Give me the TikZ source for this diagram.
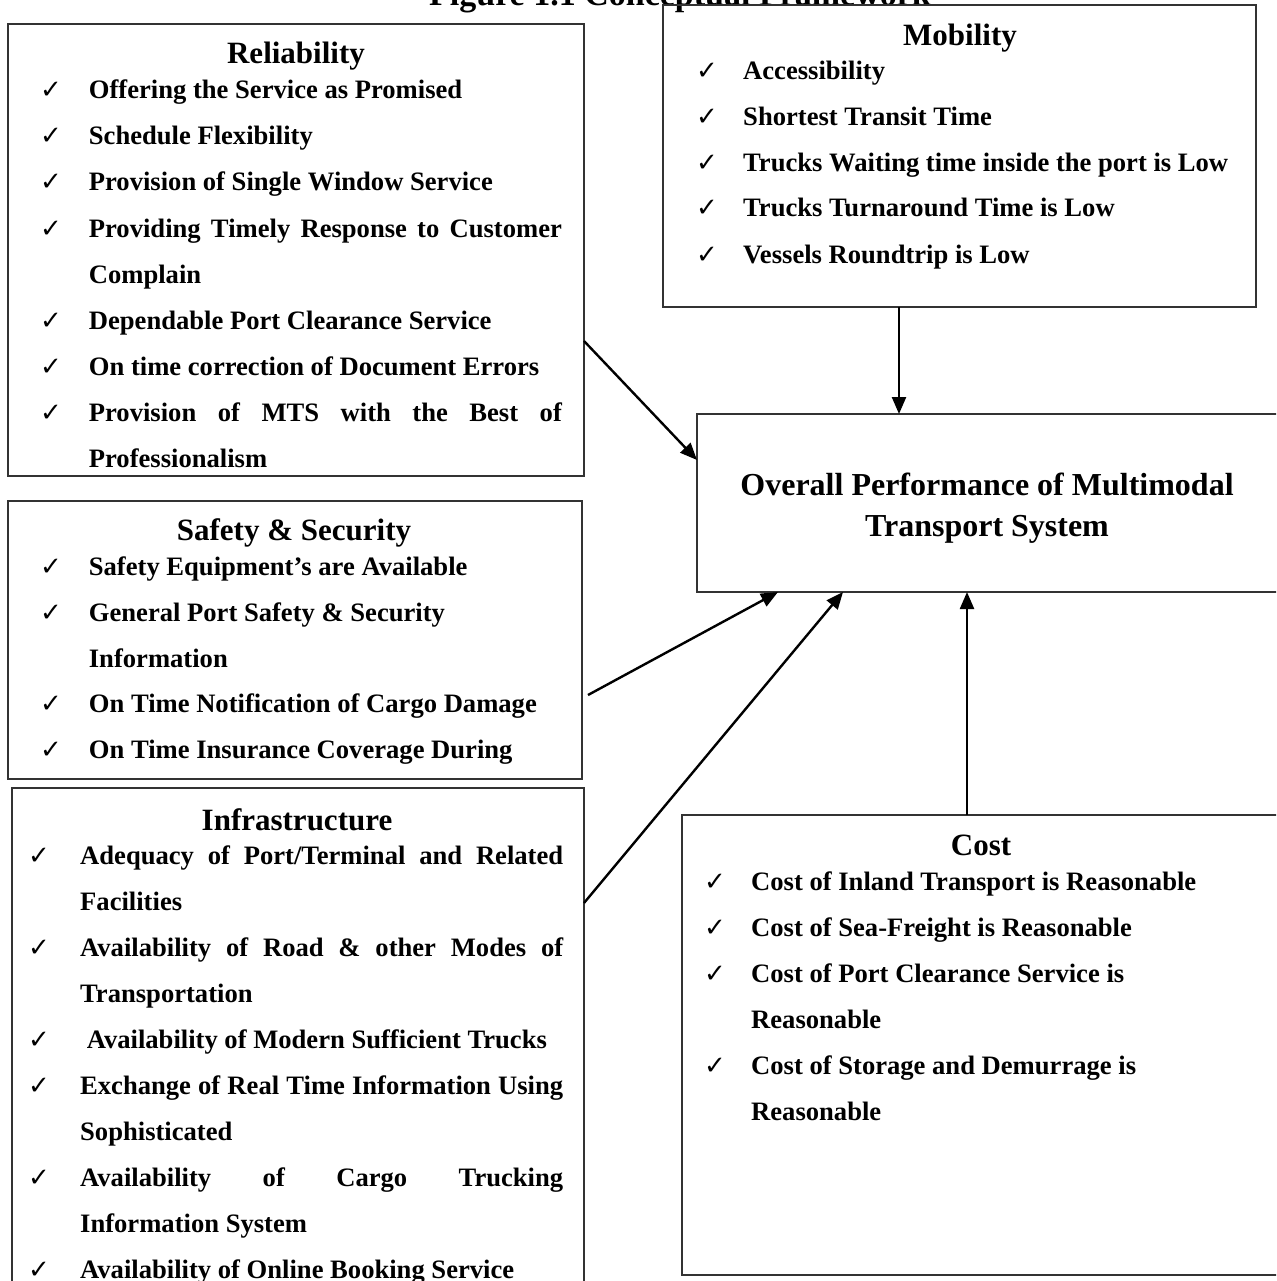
\documentclass[tikz,border=0pt]{standalone}
\usepackage{fontspec}
\setmainfont{Liberation Serif}
\newfontfamily\symf{DejaVu Sans}
\usetikzlibrary{arrows.meta}
\tikzset{
  box/.style={draw=black!80, line width=1.6pt, inner sep=0pt, outer sep=0pt, anchor=north west},
  head/.style={font=\fontsize{31}{36}\selectfont\bfseries, anchor=base, inner sep=0pt},
  ttl/.style={font=\fontsize{34}{40}\selectfont\bfseries, anchor=base, inner sep=0pt},
  big/.style={font=\fontsize{32}{40}\selectfont\bfseries, anchor=base, inner sep=0pt},
  itm/.style={font=\fontsize{26.6}{32}\selectfont\bfseries, anchor=base west, inner sep=0pt},
  tick/.style={font=\symf\fontsize{26}{30}\selectfont, anchor=base west, inner sep=0pt},
  arr/.style={line width=2.4pt, -{Triangle[length=17pt,width=14pt]}},
}
\begin{document}
\begin{tikzpicture}[x=1pt,y=-1pt]
\useasboundingbox (0,0) rectangle (1276,1281);
\clip (0,0) rectangle (1276,1281);
\fill[white] (0,0) rectangle (1276,1281);

% title (cut off at top)
\node[ttl] (title) at (680,6) {Figure 1.1 Conceptual Framework};

% boxes
\node[box, minimum width=576pt, minimum height=452pt] (rel) at (8,24) {};
\node[box, minimum width=593pt, minimum height=302pt] (mob) at (663,5) {};
\node[box, minimum width=581pt, minimum height=178pt] (ov) at (697,414) {};
\node[box, minimum width=574pt, minimum height=278pt] (saf) at (8,501) {};
\node[box, minimum width=572pt, minimum height=520pt] (inf) at (12,788) {};
\node[box, minimum width=598pt, minimum height=460pt] (cost) at (682,815) {};

% Reliability
\node[head] (relh) at (296,64) {Reliability};
\node[tick] (rt1) at (40,99) {✓};
\node[itm] (ri1) at (88.7,99) {Offering the Service as Promised};
\node[tick] (rt2) at (40,145) {✓};
\node[itm] (ri2) at (88.7,145) {Schedule Flexibility};
\node[tick] (rt3) at (40,191) {✓};
\node[itm] (ri3) at (88.7,191) {Provision of Single Window Service};
\node[tick] (rt4) at (40,237) {✓};
\node[itm] (ri4) at (88.7,237) {\makebox[473pt][s]{Providing Timely Response to Customer}};
\node[itm] (ri4b) at (88.7,283) {Complain};
\node[tick] (rt5) at (40,329) {✓};
\node[itm] (ri5) at (88.7,329) {Dependable Port Clearance Service};
\node[tick] (rt6) at (40,375) {✓};
\node[itm] (ri6) at (88.7,375) {On time correction of Document Errors};
\node[tick] (rt7) at (40,421) {✓};
\node[itm] (ri7) at (88.7,421) {\makebox[473pt][s]{Provision of MTS with the Best of}};
\node[itm] (ri7b) at (88.7,467) {Professionalism};

% Mobility
\node[head] (mobh) at (960,46) {Mobility};
\node[tick] (mt1) at (696,80) {✓};
\node[itm] (mi1) at (743,80) {Accessibility};
\node[tick] (mt2) at (696,126) {✓};
\node[itm] (mi2) at (743,126) {Shortest Transit Time};
\node[tick] (mt3) at (696,172) {✓};
\node[itm] (mi3) at (743,172) {Trucks Waiting time inside the port is Low};
\node[tick] (mt4) at (696,217) {✓};
\node[itm] (mi4) at (743,217) {Trucks Turnaround Time is Low};
\node[tick] (mt5) at (696,263) {✓};
\node[itm] (mi5) at (743,263) {Vessels Roundtrip is Low};

% Overall
\node[big] (ov1) at (987,495) {Overall Performance of Multimodal};
\node[big] (ov2) at (987,536) {Transport System};

% Safety
\node[head] (safh) at (294,540) {Safety \& Security};
\node[tick] (st1) at (40,575) {✓};
\node[itm] (si1) at (88.7,575) {Safety Equipment’s are Available};
\node[tick] (st2) at (40,621) {✓};
\node[itm] (si2) at (88.7,621) {General Port Safety \& Security};
\node[itm] (si2b) at (88.7,667) {Information};
\node[tick] (st3) at (40,712) {✓};
\node[itm] (si3) at (88.7,712) {On Time Notification of Cargo Damage};
\node[tick] (st4) at (40,758) {✓};
\node[itm] (si4) at (88.7,758) {On Time Insurance Coverage During};

% Infrastructure
\node[head] (infh) at (297,830) {Infrastructure};
\node[tick] (it1) at (28,864) {✓};
\node[itm] (ii1) at (80,864) {\makebox[483pt][s]{Adequacy of Port/Terminal and Related}};
\node[itm] (ii1b) at (80,910) {Facilities};
\node[tick] (it2) at (28,956) {✓};
\node[itm] (ii2) at (80,956) {\makebox[483pt][s]{Availability of Road \& other Modes of}};
\node[itm] (ii2b) at (80,1002) {Transportation};
\node[tick] (it3) at (28,1048) {✓};
\node[itm] (ii3) at (86.6,1048) {Availability of Modern Sufficient Trucks};
\node[tick] (it4) at (28,1094) {✓};
\node[itm] (ii4) at (80,1094) {\makebox[483pt][s]{Exchange of Real Time Information Using}};
\node[itm] (ii4b) at (80,1140) {Sophisticated};
\node[tick] (it5) at (28,1186) {✓};
\node[itm] (ii5) at (80,1186) {\makebox[483pt][s]{Availability of Cargo Trucking}};
\node[itm] (ii5b) at (80,1232) {Information System};
\node[tick] (it6) at (28,1278) {✓};
\node[itm] (ii6) at (80,1278) {Availability of Online Booking Service};

% Cost
\node[head] (costh) at (981,855) {Cost};
\node[tick] (ct1) at (704,890) {✓};
\node[itm] (ci1) at (751,890) {Cost of Inland Transport is Reasonable};
\node[tick] (ct2) at (704,936) {✓};
\node[itm] (ci2) at (751,936) {Cost of Sea-Freight is Reasonable};
\node[tick] (ct3) at (704,982) {✓};
\node[itm] (ci3) at (751,982) {Cost of Port Clearance Service is};
\node[itm] (ci3b) at (751,1028) {Reasonable};
\node[tick] (ct4) at (704,1074) {✓};
\node[itm] (ci4) at (751,1074) {Cost of Storage and Demurrage is};
\node[itm] (ci4b) at (751,1120) {Reasonable};

% arrows
\draw[arr] ([yshift=-91pt]rel.east) -- ([yshift=43pt]ov.west);
\draw[arr] ([xshift=-60.5pt]mob.south) -- ([xshift=-88.5pt]ov.north);
\draw[arr] ([xshift=6pt,yshift=-55pt]saf.east) -- ([xshift=-209.5pt]ov.south);
\draw[arr] ([yshift=-115pt]inf.north east) -- ([xshift=-144.5pt]ov.south);
\draw[arr] ([xshift=-14pt]cost.north) -- ([xshift=-20.5pt]ov.south);
\end{tikzpicture}
\end{document}
